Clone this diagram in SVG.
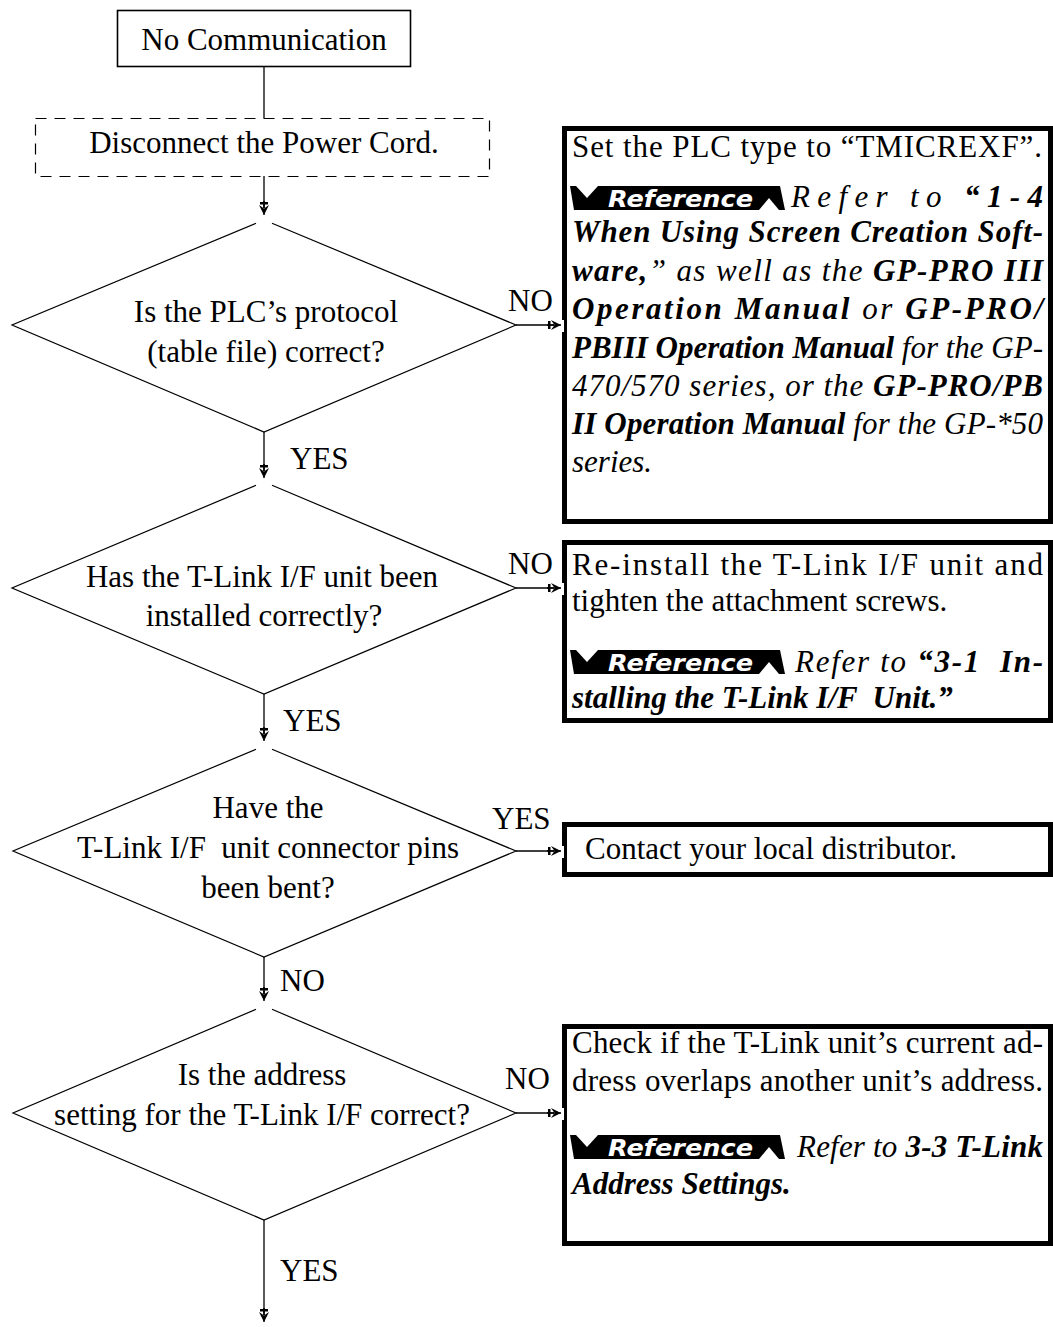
<svg xmlns="http://www.w3.org/2000/svg" width="1053" height="1327" viewBox="0 0 1053 1327">
<style>
text{font-family:"Liberation Serif","Times New Roman",serif;font-size:31px;fill:#000}
.c{text-anchor:middle}
.i{font-style:italic}
.b{font-weight:bold;font-style:italic}
.line{stroke:#000;stroke-width:1.3;fill:none}
.dia{stroke:#000;stroke-width:1.2;fill:none}
.box{stroke:#000;stroke-width:5;fill:#fff}
.badgetxt{font-family:"DejaVu Sans","Liberation Sans",sans-serif;font-size:23px;font-weight:bold;font-style:italic;fill:#fff}
</style>
<defs>
<marker id="ah" markerUnits="userSpaceOnUse" markerWidth="18" markerHeight="14" viewBox="-15 -7 18 14" refX="0" refY="0" orient="auto">
<path d="M0,0 L-10,-5 L-6.5,0 L-10,5 Z M-13,-4 H-10.5 V4 H-13 Z M-14,-0.8 H-6 V0.8 H-14 Z" fill="#000"/>
</marker>
<g id="badge">
<path d="M0,0 H210 L215,24 H4 Z" fill="#000"/>
<path d="M6,0 H28 L17,12 Z" fill="#fff"/>
<path d="M189,24 H209 L199,12 Z" fill="#fff"/>
<text class="badgetxt" x="38" y="20.5" textLength="145" lengthAdjust="spacingAndGlyphs">Reference</text>
</g>
</defs>

<g id="connectors">
<line class="line" x1="264" y1="67" x2="264" y2="118"/>
<line class="line" x1="264" y1="176" x2="264" y2="215" marker-end="url(#ah)"/>
<line class="line" x1="264" y1="432" x2="264" y2="478" marker-end="url(#ah)"/>
<line class="line" x1="264" y1="694" x2="264" y2="741" marker-end="url(#ah)"/>
<line class="line" x1="264" y1="957" x2="264" y2="1001" marker-end="url(#ah)"/>
<line class="line" x1="264" y1="1220" x2="264" y2="1322" marker-end="url(#ah)"/>
<line class="line" x1="516" y1="325" x2="561" y2="325" marker-end="url(#ah)"/>
<line class="line" x1="516" y1="588" x2="561" y2="588" marker-end="url(#ah)"/>
<line class="line" x1="516" y1="851" x2="561" y2="851" marker-end="url(#ah)"/>
<line class="line" x1="516" y1="1113" x2="561" y2="1113" marker-end="url(#ah)"/>
<text x="508" y="311">NO</text>
<text x="290" y="469">YES</text>
<text x="508" y="574">NO</text>
<text x="283" y="731">YES</text>
<text x="492" y="829">YES</text>
<text x="280" y="991">NO</text>
<text x="505" y="1089">NO</text>
<text x="280" y="1281">YES</text>
</g>

<g id="start">
<rect x="117.5" y="10.5" width="293" height="56" fill="#fff" stroke="#000" stroke-width="1.6"/>
<text class="c" x="264" y="50">No Communication</text>
</g>

<g id="disconnect">
<rect x="35.5" y="118.5" width="454" height="58" fill="none" stroke="#000" stroke-width="1.2" stroke-dasharray="11 8"/>
<text class="c" x="264" y="153">Disconnect the Power Cord.</text>
</g>

<g id="q1">
<polyline class="dia" points="256,223.3 12,325 264,432 516,325 272,223.3"/>
<text class="c" x="266" y="322">Is the PLC’s protocol</text>
<text class="c" x="266" y="362">(table file) correct?</text>
</g>

<g id="q2">
<polyline class="dia" points="256,485.3 12,588 264,694 516,588 272,485.3"/>
<text class="c" x="262" y="587">Has the T-Link I/F unit been</text>
<text class="c" x="264" y="626">installed correctly?</text>
</g>

<g id="q3">
<polyline class="dia" points="256,749.3 13,851 264,957 516,851 272,749.3"/>
<text class="c" x="268" y="818">Have the</text>
<text class="c" x="268" y="858" xml:space="preserve">T-Link I/F  unit connector pins</text>
<text class="c" x="268" y="898">been bent?</text>
</g>

<g id="q4">
<polyline class="dia" points="256,1009.3 13,1113 264,1220 516,1113 272,1009.3"/>
<text class="c" x="262" y="1085">Is the address</text>
<text class="c" x="262" y="1125">setting for the T-Link I/F correct?</text>
</g>

<g id="box1">
<rect class="box" x="564.5" y="128.5" width="486" height="393"/>
<rect x="561" y="320" width="3" height="12" fill="#fff"/>
<text x="572" y="157" textLength="470" lengthAdjust="spacing">Set the PLC type to “TMICREXF”.</text>
<use href="#badge" x="570" y="186"/>
<text x="791" y="207" textLength="252" lengthAdjust="spacing"><tspan class="i">Refer to </tspan><tspan class="b">“1-4</tspan></text>
<text class="b" x="572" y="242" textLength="471" lengthAdjust="spacing">When Using Screen Creation Soft-</text>
<text x="572" y="281" textLength="471" lengthAdjust="spacing"><tspan class="b">ware,</tspan><tspan class="i">” as well as the </tspan><tspan class="b">GP-PRO III</tspan></text>
<text x="572" y="319" textLength="471" lengthAdjust="spacing"><tspan class="b">Operation Manual</tspan><tspan class="i"> or </tspan><tspan class="b">GP-PRO/</tspan></text>
<text x="572" y="358" textLength="471" lengthAdjust="spacing"><tspan class="b">PBIII Operation Manual</tspan><tspan class="i"> for the GP-</tspan></text>
<text x="572" y="396" textLength="471" lengthAdjust="spacing"><tspan class="i">470/570 series, or the </tspan><tspan class="b">GP-PRO/PB</tspan></text>
<text x="572" y="434" textLength="471" lengthAdjust="spacing"><tspan class="b">II Operation Manual</tspan><tspan class="i"> for the GP-*50</tspan></text>
<text class="i" x="572" y="472">series.</text>
</g>

<g id="box2">
<rect class="box" x="564.5" y="542.5" width="486" height="178"/>
<rect x="561" y="583" width="3" height="12" fill="#fff"/>
<text x="572" y="575" textLength="471" lengthAdjust="spacing">Re-install the T-Link I/F unit and</text>
<text x="572" y="611">tighten the attachment screws.</text>
<use href="#badge" x="570" y="650"/>
<text x="795" y="672" textLength="248" lengthAdjust="spacing" xml:space="preserve"><tspan class="i">Refer to </tspan><tspan class="b">“3-1  In-</tspan></text>
<text class="b" x="572" y="708" xml:space="preserve">stalling the T-Link I/F  Unit.”</text>
</g>

<g id="box3">
<rect class="box" x="564.5" y="824.5" width="486" height="50"/>
<rect x="561" y="846" width="3" height="12" fill="#fff"/>
<text x="585" y="859">Contact your local distributor.</text>
</g>

<g id="box4">
<rect class="box" x="564.5" y="1026.5" width="486" height="217"/>
<rect x="561" y="1108" width="3" height="12" fill="#fff"/>
<text x="572" y="1053" textLength="471" lengthAdjust="spacing">Check if the T-Link unit’s current ad-</text>
<text x="572" y="1091" textLength="471" lengthAdjust="spacing">dress overlaps another unit’s address.</text>
<use href="#badge" x="570" y="1135"/>
<text x="797" y="1157" textLength="246" lengthAdjust="spacing"><tspan class="i">Refer to </tspan><tspan class="b">3-3 T-Link</tspan></text>
<text class="b" x="572" y="1194">Address Settings.</text>
</g>
</svg>
